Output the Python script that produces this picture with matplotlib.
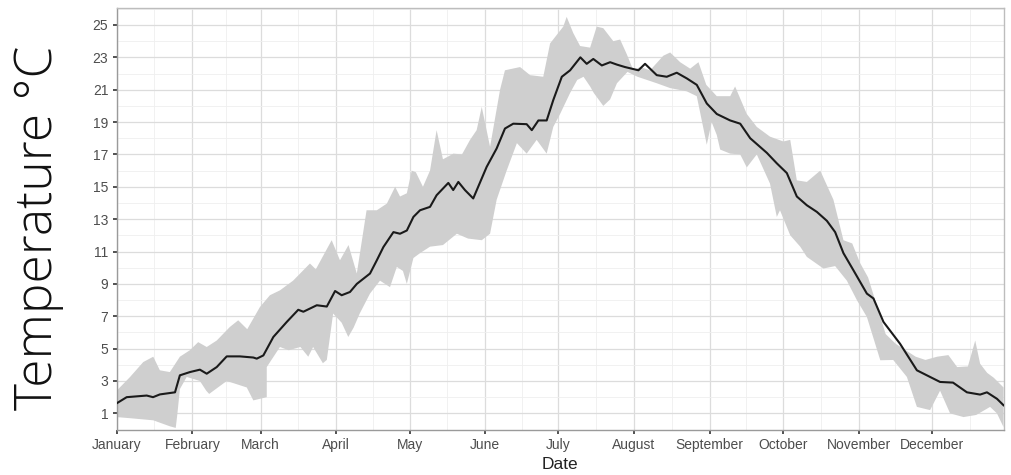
import numpy as np
import matplotlib
matplotlib.use("Agg")
import matplotlib.pyplot as plt
from matplotlib.ticker import FixedLocator

# Day-of-year (0 = 1 January) and daily mean temperature, °C
mean_day = [0, 4.1, 12.3, 14.9, 17.7, 23.9, 25.9, 30.0, 34.1, 36.9, 41.0, 45.1, 50.5,
            56.0, 57.4, 60.1, 64.2, 69.7, 74.4, 76.5, 82.0, 86.1, 89.5, 92.2, 95.6,
            98.4, 103.8, 106.6, 109.3, 113.4, 116.1, 118.9, 121.6, 124.3, 128.4,
            131.1, 135.9, 137.9, 140.0, 142.7, 146.1, 151.6, 155.7, 159.1, 162.5,
            168.0, 170.1, 172.8, 176.2, 178.9, 182.4, 185.8, 190.0, 192.6, 195.3,
            198.8, 202.2, 205.0, 208.3, 213.8, 216.5, 221.3, 225.4, 229.5, 233.6,
            237.7, 241.8, 245.9, 251.4, 255.5, 259.6, 266.4, 270.5, 274.6, 278.7,
            282.8, 286.9, 291.0, 294.4, 297.8, 301.9, 307.4, 310.1, 314.2, 321.0,
            327.9, 333.3, 337.4, 342.7, 348.4, 353.8, 356.6, 360.7, 363.4]
mean_temp = [1.62, 2.0, 2.1, 2.0, 2.17, 2.3, 3.35, 3.55, 3.7, 3.45, 3.86, 4.52, 4.52,
             4.45, 4.38, 4.58, 5.72, 6.65, 7.4, 7.28, 7.68, 7.6, 8.56, 8.3, 8.5,
             9.0, 9.64, 10.46, 11.28, 12.2, 12.1, 12.3, 13.14, 13.55, 13.76,
             14.48, 15.24, 14.8, 15.3, 14.8, 14.28, 16.23, 17.37, 18.6, 18.9,
             18.87, 18.5, 19.1, 19.1, 20.36, 21.8, 22.2, 23.0, 22.6, 22.9,
             22.5, 22.7, 22.55, 22.4, 22.2, 22.6, 21.9, 21.8, 22.05, 21.7,
             21.3, 20.15, 19.5, 19.1, 18.9, 18.0, 17.1, 16.45, 15.85, 14.4,
             13.86, 13.45, 12.9, 12.2, 10.9, 9.84, 8.4, 8.1, 6.65, 5.3,
             3.66, 3.25, 2.94, 2.9, 2.3, 2.16, 2.3, 1.9, 1.5]

# Upper edge of the range band
upper_day = [0, 5.5, 10.9, 15.0, 17.7, 21.8, 25.9, 30.0, 33.4, 36.9, 41.0, 46.4, 49.8,
             53.5, 58.7, 62.8, 66.9, 72.3, 79.2, 81.6, 88.1, 91.5, 95.0, 98.4,
             102.4, 106.6, 110.7, 114.1, 116.1, 118.9, 120.9, 122.6, 125.5, 128.4,
             131.1, 133.7, 138.0, 141.5, 144.8, 147.5, 149.6, 153.0, 157.1, 159.1,
             165.3, 169.4, 174.8, 177.6, 183.0, 184.4, 187.1, 189.9, 194.0, 196.7,
             199.4, 203.5, 206.3, 209.0, 211.7, 214.5, 218.6, 224.0, 226.8, 230.9,
             235.0, 238.4, 241.6, 245.9, 251.4, 253.4, 258.2, 262.3, 267.7, 273.2,
             276.0, 278.7, 282.8, 288.3, 293.7, 297.8, 301.4, 304.6, 307.9, 315.1,
             319.2, 327.4, 331.4, 336.2, 340.8, 344.4, 348.8, 351.8, 353.8, 356.7,
             359.4, 363.4]
upper_temp = [2.4, 3.25, 4.17, 4.5, 3.66, 3.55, 4.5, 4.9, 5.4, 5.1, 5.5, 6.34, 6.75,
              6.2, 7.57, 8.3, 8.6, 9.2, 10.26, 9.9, 11.7, 10.46, 11.4, 9.64,
              13.55, 13.55, 13.96, 15.0, 14.4, 14.6, 16.0, 15.9, 15.0, 16.0,
              18.5, 16.7, 17.05, 17.0, 17.9, 18.5, 19.94, 17.47, 21.0, 22.2,
              22.4, 21.9, 21.8, 23.86, 24.9, 25.5, 24.5, 23.7, 23.6, 24.9,
              24.8, 24.0, 24.1, 23.2, 22.2, 22.4, 22.2, 23.1, 23.3, 22.7,
              22.3, 22.7, 21.3, 20.6, 20.6, 21.2, 19.5, 18.7, 18.1, 17.8,
              17.9, 15.4, 15.3, 16.0, 14.2, 11.7, 11.5, 10.3, 9.4, 5.9,
              5.3, 4.5, 4.3, 4.5, 4.6, 3.86, 3.9, 5.5, 4.07, 3.5,
              3.2, 2.6]

# Lower edge of the range band
lower_day = [0, 5.5, 15.0, 21.8, 24.2, 24.9, 25.9, 28.7, 34.1, 36.7, 37.9, 45.1, 53.3,
             56.0, 61.5, 61.5, 66.9, 70.5, 75.3, 78.5, 80.5, 84.5, 86.1, 88.7,
             92.2, 94.9, 97.1, 99.6, 103.8, 107.9, 112.0, 114.8, 117.3, 118.9,
             121.6, 124.3, 128.4, 133.7, 139.4, 144.0, 149.6, 153.0, 155.7, 159.8,
             164.0, 168.0, 172.1, 176.2, 178.9, 181.7, 185.8, 188.7, 191.3, 194.0,
             195.5, 199.4, 202.2, 205.0, 209.3, 213.4, 221.3, 226.8, 233.6, 237.7,
             241.8, 243.8, 245.9, 247.3, 251.4, 255.5, 258.2, 262.3, 267.7, 270.5,
             271.8, 276.0, 280.1, 282.8, 289.6, 294.4, 299.2, 303.3, 307.4, 312.9,
             318.2, 323.8, 327.9, 333.3, 337.4, 341.5, 347.0, 352.2, 357.9, 360.7,
             363.4]
lower_temp = [0.77, 0.7, 0.57, 0.2, 0.1, 1.0, 2.5, 3.25, 3.0, 2.4, 2.2, 3.0, 2.6,
              1.8, 2.0, 3.86, 5.1, 4.9, 5.1, 4.5, 5.1, 4.1, 4.3, 7.17,
              6.6, 5.72, 6.3, 7.17, 8.4, 9.2, 8.8, 10.05, 9.8, 9.0,
              10.6, 10.9, 11.3, 11.4, 12.1, 11.8, 11.7, 12.1, 14.2, 16.0,
              17.7, 17.05, 17.9, 17.05, 18.7, 19.5, 20.8, 21.6, 21.8, 21.2,
              20.8, 20.0, 20.4, 21.4, 22.1, 21.8, 21.4, 21.1, 20.9, 20.6,
              17.6, 19.0, 18.2, 17.3, 17.05, 17.0, 16.2, 17.0, 15.2, 13.14,
              13.55, 12.0, 11.3, 10.67, 9.95, 10.1, 9.2, 8.0, 6.96, 4.28,
              4.3, 3.25, 1.4, 1.2, 2.4, 1.0, 0.77, 0.9, 1.4, 1.0,
              0.15]

month_start = [0, 31, 59, 90, 120, 151, 181, 212, 243, 273, 304, 334]
month_names = ["January", "February", "March", "April", "May", "June", "July",
               "August", "September", "October", "November", "December"]
y_ticks = list(range(1, 26, 2))

plt.rcParams["font.family"] = ["Liberation Sans", "DejaVu Sans"]

fig = plt.figure(figsize=(10.11, 4.75), dpi=100)
ax = fig.add_axes([0.1154, 0.0947, 0.8777, 0.8878])

# Range band as a closed polygon: upper edge forward, lower edge back
band_x = np.concatenate([upper_day, lower_day[::-1]])
band_y = np.concatenate([upper_temp, lower_temp[::-1]])
ax.fill(band_x, band_y, color="#CFCFCF", lw=0, zorder=2)
ax.plot(mean_day, mean_temp, color="#1A1A1A", lw=1.5, zorder=3)

ax.set_xlim(0, 363.6)
ax.set_ylim(-0.03, 26.03)

ax.xaxis.set_major_locator(FixedLocator(month_start))
ax.set_xticklabels(month_names)
month_mid = [(a + b) / 2 for a, b in zip(month_start, month_start[1:] + [365])]
ax.xaxis.set_minor_locator(FixedLocator(month_mid))
ax.yaxis.set_major_locator(FixedLocator(y_ticks))
ax.yaxis.set_minor_locator(FixedLocator(list(range(0, 27, 2))))

ax.grid(True, which="major", color="#DCDCDC", lw=0.9, zorder=0)
ax.grid(True, which="minor", color="#EFEFEF", lw=0.6, zorder=0)
ax.set_axisbelow(True)

ax.tick_params(axis="both", which="major", length=3, width=1.2, color="#333333",
               labelsize=10, labelcolor="#4D4D4D", pad=3)
ax.tick_params(axis="both", which="minor", length=0)

for side in ["top", "right"]:
    ax.spines[side].set_color("#BDBDBD")
    ax.spines[side].set_linewidth(1.0)
for side in ["left", "bottom"]:
    ax.spines[side].set_color("#9A9A9A")
    ax.spines[side].set_linewidth(1.0)

fig.text(0.554, 0.022, "Date", ha="center", va="center", fontsize=12.5, color="#222222")
fig.text(0.038, 0.52, "Temperature °C", ha="center", va="center", rotation=90,
         fontsize=37, color="#111111", family=["Open Sans", "DejaVu Sans"],
         fontweight="light")

fig.savefig("out.png", dpi=100)
